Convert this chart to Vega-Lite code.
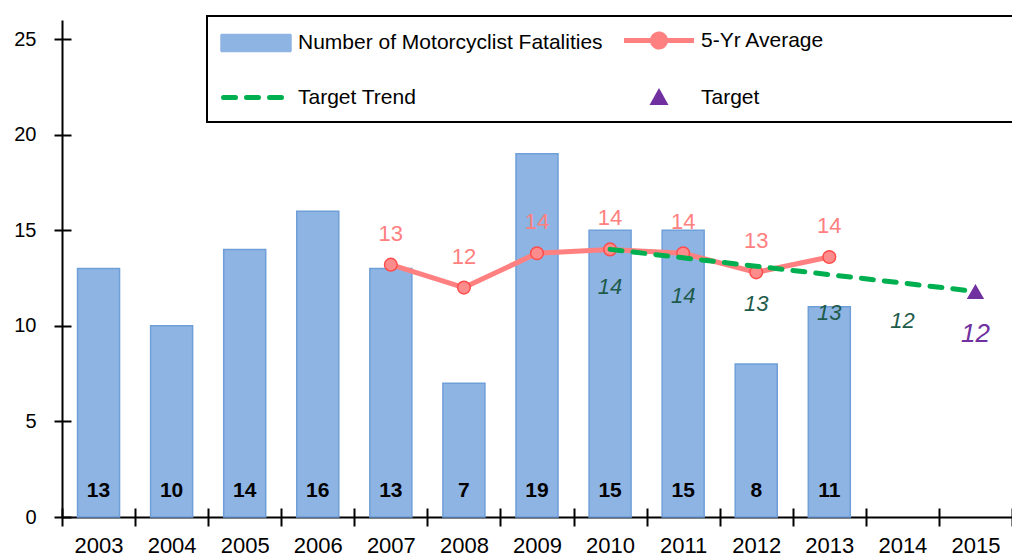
{
  "$schema": "https://vega.github.io/schema/vega-lite/v6.json",
  "width": 950,
  "height": 497,
  "autosize": {"type": "none"},
  "padding": {"left": 62, "top": 20, "right": 0, "bottom": 43},
  "config": {
    "view": {"stroke": null},
    "font": "Liberation Sans",
    "axis": {"grid": false, "title": null, "domainColor": "black", "domainWidth": 2, "tickColor": "black", "tickWidth": 2, "labelColor": "black", "labelFont": "Liberation Sans"}
  },
  "resolve": {"axis": {"x": "independent", "y": "independent"}},
  "data": {
    "values": [
      {"year": "2003", "fatalities": 13, "avg5": null, "trend": null, "target": null},
      {"year": "2004", "fatalities": 10, "avg5": null, "trend": null, "target": null},
      {"year": "2005", "fatalities": 14, "avg5": null, "trend": null, "target": null},
      {"year": "2006", "fatalities": 16, "avg5": null, "trend": null, "target": null},
      {"year": "2007", "fatalities": 13, "avg5": 13.2, "trend": null, "target": null},
      {"year": "2008", "fatalities": 7, "avg5": 12.0, "trend": null, "target": null},
      {"year": "2009", "fatalities": 19, "avg5": 13.8, "trend": null, "target": null},
      {"year": "2010", "fatalities": 15, "avg5": 14.0, "trend": 14.0, "target": null},
      {"year": "2011", "fatalities": 15, "avg5": 13.8, "trend": 13.56, "target": null},
      {"year": "2012", "fatalities": 8, "avg5": 12.8, "trend": 13.12, "target": null},
      {"year": "2013", "fatalities": 11, "avg5": 13.6, "trend": 12.68, "target": null},
      {"year": "2014", "fatalities": null, "avg5": null, "trend": 12.24, "target": null},
      {"year": "2015", "fatalities": null, "avg5": null, "trend": 11.8, "target": 11.8}
    ]
  },
  "layer": [
    {
      "mark": {"type": "bar", "width": {"band": 0.575}, "stroke": "#6F9FD8", "strokeWidth": 1.5},
      "encoding": {
        "x": {"field": "year", "type": "ordinal", "scale": {"type": "band", "paddingInner": 0, "paddingOuter": 0},
              "axis": {"orient": "bottom", "tickBand": "extent", "labelAngle": 0, "tickSize": 9, "labelFontSize": 22, "labelPadding": 9, "domain": true}},
        "y": {"field": "fatalities", "type": "quantitative", "scale": {"domain": [0, 25]},
              "axis": {"orient": "left", "values": [0, 5, 10, 15, 20, 25], "tickSize": 8, "labelFontSize": 20, "labelPadding": 18, "domain": true}},
        "color": {
          "datum": "Number of Motorcyclist Fatalities", "type": "nominal",
          "scale": {"domain": ["Number of Motorcyclist Fatalities", "5-Yr Average", "Target Trend", "Target"], "range": ["#8EB4E3", "#FF8080", "#00B050", "#7030A0"]},
          "legend": {
            "title": " ", "titleOrient": "right", "titlePadding": 178, "titleFontSize": 10,
            "orient": "none", "legendX": 145, "legendY": -4,
            "columns": 2, "direction": "horizontal",
            "strokeColor": "black", "padding": 14, "rowPadding": 29, "columnPadding": 11,
            "symbolSize": 100, "symbolOffset": 24.5,
            "labelFontSize": 21, "labelOffset": 31.5, "labelColor": "black", "labelLimit": 600, "labelFont": "Liberation Sans",
            "encoding": {
              "legend": {"strokeWidth": {"value": 2}},
              "symbols": {
                "shape": {"value": {"expr": "datum.value === 'Number of Motorcyclist Fatalities' ? 'M-7,-1.7H7V1.7H-7Z' : datum.value === '5-Yr Average' ? 'M-7,0H-1.3M1.3,0H7M1.3,0A1.3,1.3,0,1,1,-1.3,0A1.3,1.3,0,1,1,1.3,0' : datum.value === 'Target Trend' ? 'M-6.5,0H6.5' : 'M0,-1.9L1.9,1.5L-1.9,1.5Z'"}},
                "size": {"value": 100},
                "fill": {"value": {"expr": "datum.value === 'Number of Motorcyclist Fatalities' ? '#8EB4E3' : datum.value === '5-Yr Average' ? '#FF8C8C' : datum.value === 'Target Trend' ? 'transparent' : '#7030A0'"}},
                "stroke": {"value": {"expr": "datum.value === 'Number of Motorcyclist Fatalities' ? '#6F9FD8' : datum.value === '5-Yr Average' ? '#FF8080' : datum.value === 'Target Trend' ? '#00B050' : '#7030A0'"}},
                "strokeWidth": {"value": {"expr": "datum.value === 'Number of Motorcyclist Fatalities' ? 1.5 : datum.value === 'Target' ? 0 : 5"}},
                "strokeDash": {"value": {"expr": "datum.value === 'Target Trend' ? [12, 11] : [1, 0]"}},
                "strokeCap": {"value": {"expr": "datum.value === 'Target Trend' ? 'round' : 'butt'"}},
                "opacity": {"value": 1}
              }
            }
          }
        }
      }
    },
    {
      "mark": {"type": "line", "strokeWidth": 5},
      "encoding": {
        "x": {"field": "year", "type": "ordinal", "axis": {"orient": "bottom", "tickBand": "extent", "domain": false, "labels": false, "tickSize": -9}},
        "y": {"field": "avg5", "type": "quantitative", "axis": {"orient": "left", "values": [0, 5, 10, 15, 20, 25], "domain": false, "labels": false, "tickSize": -9}},
        "color": {"datum": "5-Yr Average", "type": "nominal"}
      }
    },
    {
      "mark": {"type": "point", "filled": true, "size": 160, "fill": "#FF8C8C", "stroke": "#FF4D4D", "strokeWidth": 1.5, "opacity": 1},
      "encoding": {
        "x": {"field": "year", "type": "ordinal", "axis": null},
        "y": {"field": "avg5", "type": "quantitative", "axis": null}
      }
    },
    {
      "mark": {"type": "line", "strokeWidth": 5, "strokeDash": [12, 11], "strokeCap": "round"},
      "encoding": {
        "x": {"field": "year", "type": "ordinal", "axis": null},
        "y": {"field": "trend", "type": "quantitative", "axis": null},
        "color": {"datum": "Target Trend", "type": "nominal"}
      }
    },
    {
      "mark": {"type": "point", "shape": "triangle-up", "filled": true, "size": 300, "opacity": 1},
      "encoding": {
        "x": {"field": "year", "type": "ordinal", "axis": null},
        "y": {"field": "target", "type": "quantitative", "axis": null},
        "color": {"datum": "Target", "type": "nominal"}
      }
    },
    {
      "transform": [{"filter": "datum.fatalities != null"}],
      "mark": {"type": "text", "fontSize": 21, "fontWeight": "bold", "color": "black", "baseline": "alphabetic", "dy": -20},
      "encoding": {
        "x": {"field": "year", "type": "ordinal", "axis": null},
        "y": {"datum": 0, "type": "quantitative", "axis": null},
        "text": {"field": "fatalities", "type": "quantitative", "format": ".0f"}
      }
    },
    {
      "transform": [{"filter": "datum.avg5 != null"}],
      "mark": {"type": "text", "fontSize": 22, "color": "#FF8080", "baseline": "alphabetic", "dy": -24},
      "encoding": {
        "x": {"field": "year", "type": "ordinal", "axis": null},
        "y": {"field": "avg5", "type": "quantitative", "axis": null},
        "text": {"field": "avg5", "type": "quantitative", "format": ".0f"}
      }
    },
    {
      "transform": [{"filter": "datum.trend != null && datum.target == null"}],
      "mark": {"type": "text", "fontSize": 22, "fontStyle": "italic", "color": "#1E5B4A", "baseline": "alphabetic", "dy": 45},
      "encoding": {
        "x": {"field": "year", "type": "ordinal", "axis": null},
        "y": {"field": "trend", "type": "quantitative", "axis": null},
        "text": {"field": "trend", "type": "quantitative", "format": ".0f"}
      }
    },
    {
      "transform": [{"filter": "datum.target != null"}],
      "mark": {"type": "text", "fontSize": 26, "fontStyle": "italic", "color": "#7030A0", "baseline": "alphabetic", "dy": 51},
      "encoding": {
        "x": {"field": "year", "type": "ordinal", "axis": null},
        "y": {"field": "target", "type": "quantitative", "axis": null},
        "text": {"field": "target", "type": "quantitative", "format": ".0f"}
      }
    }
  ]
}
